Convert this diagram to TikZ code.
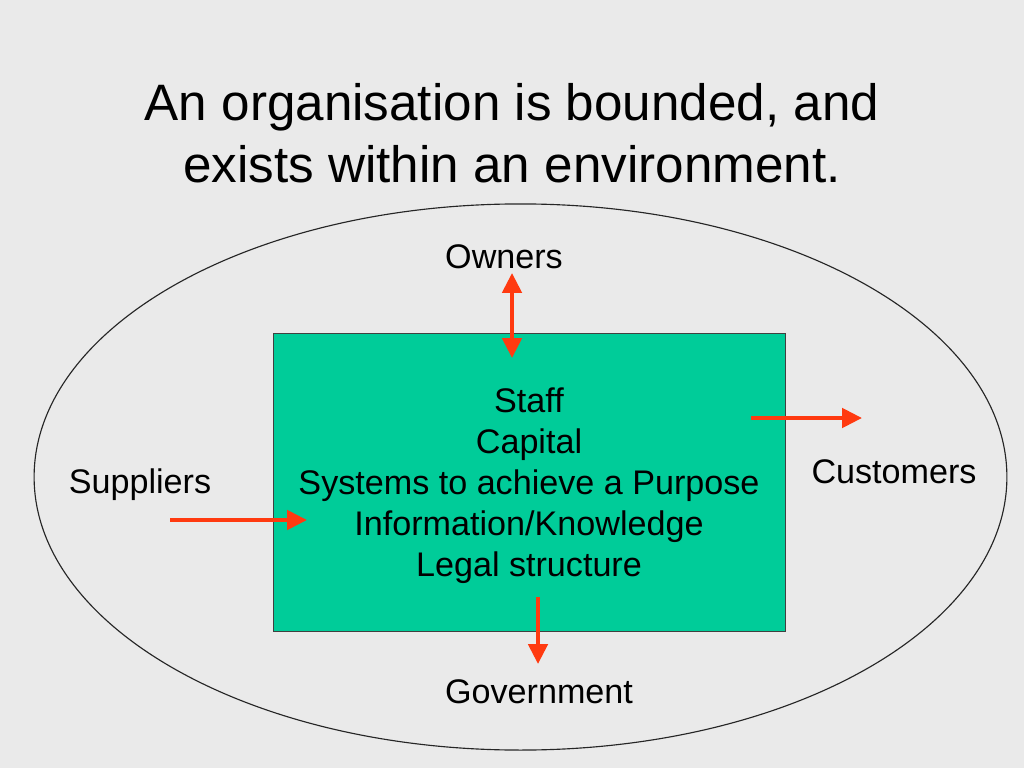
\documentclass[tikz,border=0pt]{standalone}
\usepackage{fontspec}
\setmainfont{Liberation Sans}
\usepackage{xcolor}
\usetikzlibrary{positioning,arrows.meta,shapes.geometric}
\definecolor{slidebg}{HTML}{EAEAEA}
\definecolor{orggreen}{HTML}{00CC99}
\definecolor{flowred}{HTML}{FF3A10}

\begin{document}
\begin{tikzpicture}
[
x=0.703125pt, y=-0.703125pt,
env-a/.style={ellipse, draw=black!85, line width=0.8pt, inner sep=0pt, minimum width=684pt, minimum height=384pt},
box-a/.style={rectangle, draw=black!75, line width=0.6pt, fill=orggreen, inner sep=0pt, minimum width=360pt, minimum height=209.5pt},
title-a/.style={black, align=center, font=\fontsize{36}{43.5}\selectfont},
text-a/.style={black, anchor=base, font=\fontsize{24}{28.8}\selectfont},
text-b/.style={black, align=center, font=\fontsize{24}{28.8}\selectfont},
flow-a/.style={draw=flowred, line width=2.9pt, -{Triangle[length=14pt,width=13.5pt]}}
]
\fill[slidebg] (0,0) rectangle (1024,768);
\useasboundingbox (0,0) rectangle (1024,768);
\node (title)     [title-a] at (512,133) {An organisation is bounded, and\\exists within an environment.};
\node (env)       [env-a]   at (520.5,477) {};
\node (org-box)   [box-a]   at (529,482) {};
\node (org-items) [text-b]  at (529,486) {Staff\\Capital\\Systems to achieve a Purpose\\Information/Knowledge\\Legal structure};
\node (owners)    [text-a]  at (504,269) {Owners};
\node (suppliers) [text-a]  at (140,493) {Suppliers};
\node (customers) [text-a]  at (894,483) {Customers};
\node (govt)      [text-a]  at (539,703) {Government};
% arrow ends
\coordinate (own-t) at (512,273);
\coordinate (own-b) at (512,358);
\coordinate (cus-s) at (751,418);
\coordinate (cus-e) at (862,418);
\coordinate (sup-s) at (170,520);
\coordinate (sup-e) at (307,520);
\coordinate (gov-s) at (538,597);
\coordinate (gov-e) at (538,664);
\draw [flow-a, {Triangle[length=14pt,width=13.5pt]}-{Triangle[length=14pt,width=13.5pt]}] (own-t) -- (own-b);
\draw [flow-a] (cus-s) -- (cus-e);
\draw [flow-a] (sup-s) -- (sup-e);
\draw [flow-a] (gov-s) -- (gov-e);
\end{tikzpicture}
\end{document}
